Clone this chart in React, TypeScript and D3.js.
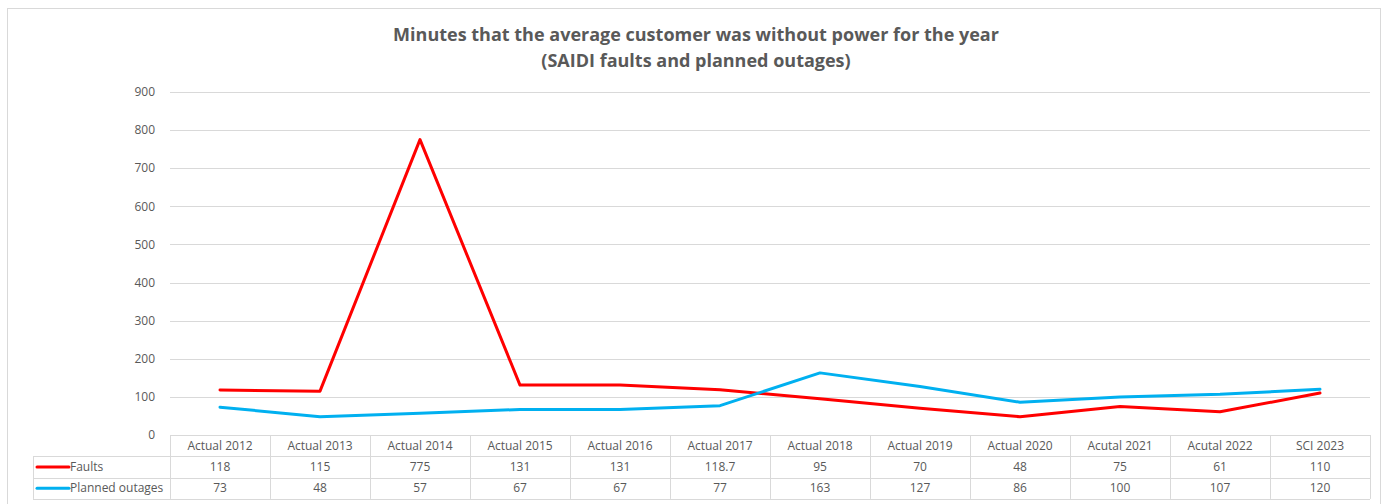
import React, { useRef, useEffect } from "react";
import * as d3 from "d3";

const categories = [
  "Actual 2012", "Actual 2013", "Actual 2014", "Actual 2015", "Actual 2016", "Actual 2017",
  "Actual 2018", "Actual 2019", "Actual 2020", "Acutal 2021", "Acutal 2022", "SCI 2023",
];
const faults = [118, 115, 775, 131, 131, 118.7, 95, 70, 48, 75, 61, 110];
const planned = [73, 48, 57, 67, 67, 77, 163, 127, 86, 100, 107, 120];
const yTicks = [0, 100, 200, 300, 400, 500, 600, 700, 800, 900];

const series = [
  { name: "Faults", values: faults, color: "#FF0000" },
  { name: "Planned outages", values: planned, color: "#00B0F0" },
];

const W = 1389;
const H = 504;
const FONT = "Open Sans, Liberation Sans, sans-serif";
const TEXT = "#595959";
const GRID = "#d9d9d9";

export default function App() {
  const svgRef = useRef<SVGSVGElement>(null);

  useEffect(() => {
    const svg = d3.select(svgRef.current);
    svg.selectAll("*").remove();

    const margin = { left: 170, right: 19, top: 92, bottom: 69 };
    const rowH = 21.3;
    const legendLeft = 33;

    const x = d3
      .scaleBand()
      .domain(categories)
      .range([margin.left, W - margin.right]);

    const y = d3
      .scaleLinear()
      .domain([0, 900])
      .range([H - margin.bottom, margin.top]);

    // outer frame
    svg
      .append("rect")
      .attr("x", 7.5)
      .attr("y", 8.5)
      .attr("width", 1373)
      .attr("height", 510)
      .attr("fill", "#fff")
      .attr("stroke", GRID);

    // title
    const title = svg
      .append("text")
      .attr("text-anchor", "middle")
      .attr("fill", TEXT)
      .attr("font-family", FONT)
      .attr("font-weight", "bold")
      .attr("font-size", 18)
      .attr("textLength", null);
    title.append("tspan").attr("x", 696).attr("y", 41).text("Minutes that the average customer was without power for the year");
    title.append("tspan").attr("x", 696).attr("y", 67).text("(SAIDI faults and planned outages)");

    // gridlines + y labels
    const yAxis = svg.append("g");
    yTicks.forEach((t) => {
      yAxis
        .append("line")
        .attr("x1", margin.left)
        .attr("x2", W - margin.right)
        .attr("y1", Math.round(y(t)) + 0.5)
        .attr("y2", Math.round(y(t)) + 0.5)
        .attr("stroke", GRID);
      yAxis
        .append("text")
        .attr("x", 155)
        .attr("y", y(t))
        .attr("dy", "0.35em")
        .attr("text-anchor", "end")
        .attr("fill", TEXT)
        .attr("font-family", FONT)
        .attr("font-size", 12)
        .text(t);
    });

    // data table
    const table = svg.append("g");
    const y0 = y(0);
    const rows = [y0, y0 + rowH, y0 + rowH * 2, y0 + rowH * 3];
    rows.forEach((ry, i) => {
      table
        .append("line")
        .attr("x1", i === 0 ? margin.left : legendLeft)
        .attr("x2", W - margin.right)
        .attr("y1", Math.round(ry) + 0.5)
        .attr("y2", Math.round(ry) + 0.5)
        .attr("stroke", GRID);
    });
    const bounds = categories.map((c) => x(c)!).concat([W - margin.right]);
    bounds.forEach((bx) => {
      table
        .append("line")
        .attr("x1", Math.round(bx) + 0.5)
        .attr("x2", Math.round(bx) + 0.5)
        .attr("y1", y0)
        .attr("y2", rows[3])
        .attr("stroke", GRID);
    });
    table
      .append("line")
      .attr("x1", legendLeft + 0.5)
      .attr("x2", legendLeft + 0.5)
      .attr("y1", rows[1])
      .attr("y2", rows[3])
      .attr("stroke", GRID);

    const cellText = (tx: number, ty: number, s: string, anchor = "middle") =>
      table
        .append("text")
        .attr("x", tx)
        .attr("y", ty)
        .attr("dy", "0.35em")
        .attr("text-anchor", anchor)
        .attr("fill", TEXT)
        .attr("font-family", FONT)
        .attr("font-size", 12)
        .text(s);

    categories.forEach((c) => {
      const cx = x(c)! + x.bandwidth() / 2;
      cellText(cx, (rows[0] + rows[1]) / 2, c);
    });
    series.forEach((s, i) => {
      const cy = (rows[i + 1] + rows[i + 2]) / 2;
      table
        .append("line")
        .attr("x1", legendLeft + 4)
        .attr("x2", legendLeft + 36)
        .attr("y1", cy)
        .attr("y2", cy)
        .attr("stroke", s.color)
        .attr("stroke-width", 3)
        .attr("stroke-linecap", "round");
      cellText(legendLeft + 37, cy, s.name, "start");
      s.values.forEach((v, j) => {
        const cx = x(categories[j])! + x.bandwidth() / 2;
        cellText(cx, cy, String(v));
      });
    });

    // lines
    const line = d3
      .line<number>()
      .x((_, i) => x(categories[i])! + x.bandwidth() / 2)
      .y((d) => y(d));

    series.forEach((s) => {
      svg
        .append("path")
        .attr("d", line(s.values))
        .attr("fill", "none")
        .attr("stroke", s.color)
        .attr("stroke-width", 3)
        .attr("stroke-linejoin", "round")
        .attr("stroke-linecap", "round");
    });
  }, []);

  return (
    <svg
      ref={svgRef}
      width={W}
      height={H}
      style={{ position: "absolute", left: 0, top: 0, display: "block", background: "#fff" }}
    />
  );
}
